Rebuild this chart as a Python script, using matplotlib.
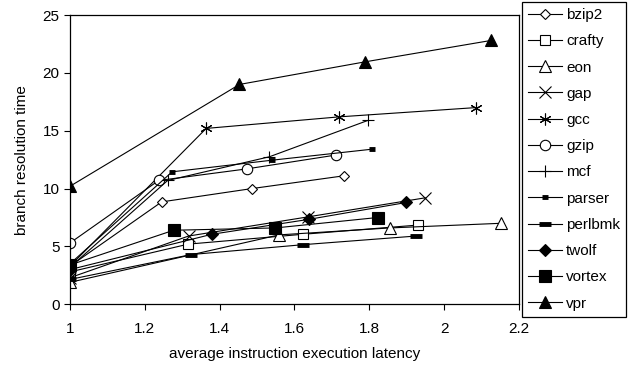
import matplotlib
matplotlib.use("Agg")
import matplotlib.pyplot as plt

plt.rcParams['font.family'] = ['Liberation Sans', 'DejaVu Sans']

# average instruction execution latency (x) and branch resolution time (y)
bzip2_x = [1.00, 1.245, 1.486, 1.731]
bzip2_y = [3.3, 8.85, 10.0, 11.1]
crafty_x = [1.00, 1.316, 1.622, 1.931]
crafty_y = [2.8, 5.2, 6.05, 6.85]
eon_x = [1.00, 1.559, 1.855, 2.151]
eon_y = [1.9, 6.0, 6.6, 7.0]
gap_x = [1.00, 1.317, 1.635, 1.949]
gap_y = [2.3, 5.9, 7.55, 9.2]
gcc_x = [1.00, 1.364, 1.72, 2.085]
gcc_y = [3.3, 15.2, 16.2, 17.0]
gzip_x = [1.00, 1.237, 1.472, 1.711]
gzip_y = [5.3, 10.7, 11.7, 12.9]
mcf_x = [1.00, 1.261, 1.533, 1.797]
mcf_y = [3.2, 10.7, 12.75, 15.9]
parser_x = [1.00, 1.273, 1.539, 1.806]
parser_y = [3.5, 11.45, 12.45, 13.4]
perlbmk_x = [1.00, 1.324, 1.622, 1.925]
perlbmk_y = [2.15, 4.3, 5.15, 5.9]
twolf_x = [1.00, 1.379, 1.640, 1.899]
twolf_y = [3.0, 6.05, 7.35, 8.8]
vortex_x = [1.00, 1.277, 1.549, 1.822]
vortex_y = [3.4, 6.4, 6.6, 7.5]
vpr_x = [1.00, 1.453, 1.788, 2.125]
vpr_y = [10.2, 19.0, 20.95, 22.8]

x_ticks = [1, 1.2, 1.4, 1.6, 1.8, 2, 2.2]
x_tick_labels = ['1', '1.2', '1.4', '1.6', '1.8', '2', '2.2']
y_ticks = [0, 5, 10, 15, 20, 25]

series = [
    ('bzip2', bzip2_x, bzip2_y, dict(marker='D', ms=5.5, mfc='white')),
    ('crafty', crafty_x, crafty_y, dict(marker='s', ms=7, mfc='white')),
    ('eon', eon_x, eon_y, dict(marker='^', ms=8, mfc='white')),
    ('gap', gap_x, gap_y, dict(marker='x', ms=8, mew=0.8)),
    ('gcc', gcc_x, gcc_y, dict(marker=(6, 2, 0), ms=8.5, mew=0.8)),
    ('gzip', gzip_x, gzip_y, dict(marker='o', ms=7.5, mfc='white')),
    ('mcf', mcf_x, mcf_y, dict(marker='+', ms=9, mew=0.8)),
    ('parser', parser_x, parser_y, dict(marker='_', ms=5, mew=3.5)),
    ('perlbmk', perlbmk_x, perlbmk_y, dict(marker='_', ms=8, mew=3.5)),
    ('twolf', twolf_x, twolf_y, dict(marker='D', ms=6, mfc='black')),
    ('vortex', vortex_x, vortex_y, dict(marker='s', ms=8, mfc='black')),
    ('vpr', vpr_x, vpr_y, dict(marker='^', ms=8.5, mfc='black')),
]

fig = plt.figure(figsize=(6.34, 3.68), dpi=100)
ax = fig.add_axes([0.1104, 0.1731, 0.7082, 0.7861])

handles = []
for name, xs, ys, style in series:
    kw = dict(color='black', lw=0.8, mec='black', mew=0.8)
    kw.update(style)
    h, = ax.plot(xs, ys, label=name, **kw)
    handles.append(h)

ax.set_xlim(1, 2.2)
ax.set_ylim(0, 25)
ax.set_xticks(x_ticks)
ax.set_xticklabels(x_tick_labels)
ax.set_yticks(y_ticks)
ax.tick_params(axis='both', direction='out', length=4, width=0.8,
               labelsize=11, colors='black')
ax.tick_params(axis='x', pad=9)
for s in ax.spines.values():
    s.set_linewidth(0.9)
    s.set_color('black')

ax.set_xlabel('average instruction execution latency', fontsize=11, labelpad=8)
ax.set_ylabel('branch resolution time', fontsize=11, labelpad=10)

leg = fig.legend(handles=handles, loc='upper left',
                 bbox_to_anchor=(522 / 634, 1 - 2 / 368),
                 fontsize=11, frameon=True, fancybox=False,
                 edgecolor='black', framealpha=1,
                 handlelength=2.2, handletextpad=0.3,
                 labelspacing=0.8, borderpad=0.4, borderaxespad=0)
leg.get_frame().set_linewidth(0.9)

fig.savefig('out.png', dpi=100)
